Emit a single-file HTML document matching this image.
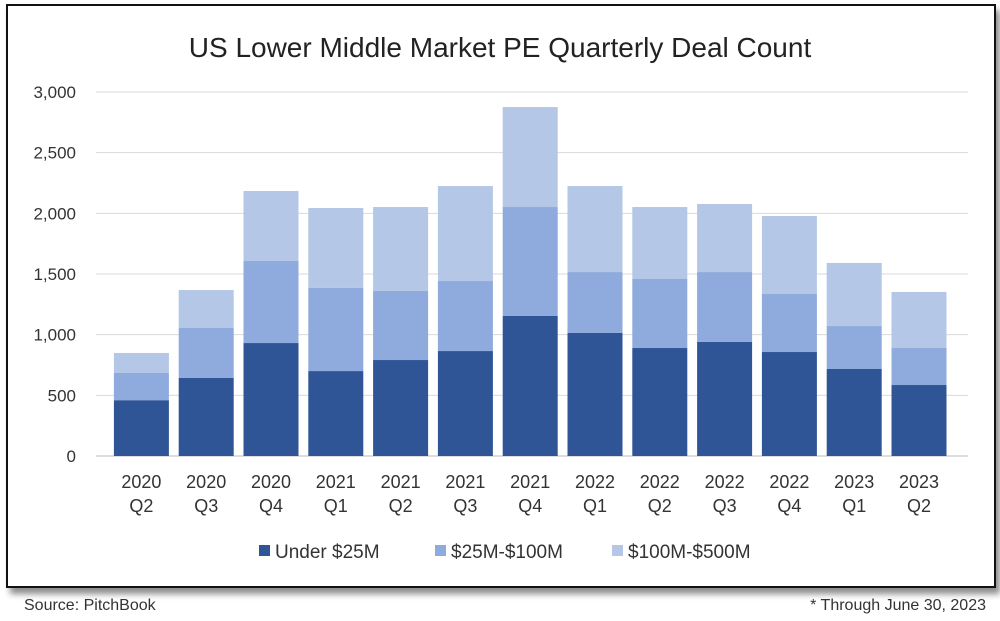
<!DOCTYPE html>
<html><head><meta charset="utf-8"><style>
body{margin:0;background:#fff;width:1000px;height:621px;overflow:hidden;font-family:"Liberation Sans",sans-serif;}
#frame{position:absolute;left:6px;top:4px;width:986px;height:580px;border:2px solid #111;box-shadow:4px 6px 6px rgba(0,0,0,0.45);background:#fff;}
.foot{position:absolute;top:597px;font-size:16px;color:#333;}
</style></head><body>
<div id="frame"></div>
<svg id="chart" width="1000" height="621" style="position:absolute;left:0;top:0"></svg>
<div class="foot" style="left:24px">Source: PitchBook</div>
<div class="foot" style="right:14px">* Through June 30, 2023</div>
<script>
const categories=[["2020","Q2"],["2020","Q3"],["2020","Q4"],["2021","Q1"],["2021","Q2"],["2021","Q3"],["2021","Q4"],["2022","Q1"],["2022","Q2"],["2022","Q3"],["2022","Q4"],["2023","Q1"],["2023","Q2"]];
const under25=[460,643,931,700,791,865,1154,1014,890,940,857,717,585];
const mid25to100=[224,412,676,685,569,577,898,502,569,576,478,354,305];
const top100to500=[165,313,577,659,692,783,824,709,593,561,643,520,462];
const yTicks=[0,500,1000,1500,2000,2500,3000];
const seriesNames=["Under $25M","$25M-$100M","$100M-$500M"];
const colors=["#2f5597","#8faadc","#b4c7e7"];
const NS="http://www.w3.org/2000/svg";
const svg=document.getElementById('chart');
const y0=456,yTop=92,yMax=3000,x0=109,step=64.8,bw=55;
const y=v=>y0-(v/yMax)*(y0-yTop);
const xc=i=>x0+step*(i+0.5);
function mk(t,a){const e=document.createElementNS(NS,t);for(const k in a)e.setAttribute(k,a[k]);svg.appendChild(e);return e;}
let t=mk('text',{x:500,y:57,'text-anchor':'middle','font-size':'28',fill:'#222'});t.textContent="US Lower Middle Market PE Quarterly Deal Count";


yTicks.forEach(v=>{
 const l=mk('line',{x1:96,x2:968,y1:y(v),y2:y(v),stroke:v===0?'#bbb':'#d9d9d9','stroke-width':1});
 
 
 const tx=mk('text',{x:76,y:y(v)+6,'text-anchor':'end','font-size':'17',fill:'#333'});
 tx.textContent=v.toLocaleString('en-US');
 
 
});
const series=[under25,mid25to100,top100to500];
categories.forEach((c,i)=>{
 let base=0;
 series.forEach((s,k)=>{
  const r=mk('rect',{x:xc(i)-bw/2,y:y(base+s[i]),width:bw,height:y(base)-y(base+s[i]),fill:colors[k]});
  
  
  base+=s[i];
 });
 [0,1].forEach(j=>{
  const tx=mk('text',{x:xc(i),y:488+j*24,'text-anchor':'middle','font-size':'18',fill:'#333'});
  tx.textContent=c[j];
  
  
 });
});
const lx=[259,435,612];
seriesNames.forEach((n,k)=>{
 const r=mk('rect',{x:lx[k],y:545,width:11,height:11,fill:colors[k]});
 
 
 const tx=mk('text',{x:lx[k]+16,y:558,'font-size':'19',fill:'#333'});
 tx.textContent=n;
 
 
});
</script>
</body></html>
